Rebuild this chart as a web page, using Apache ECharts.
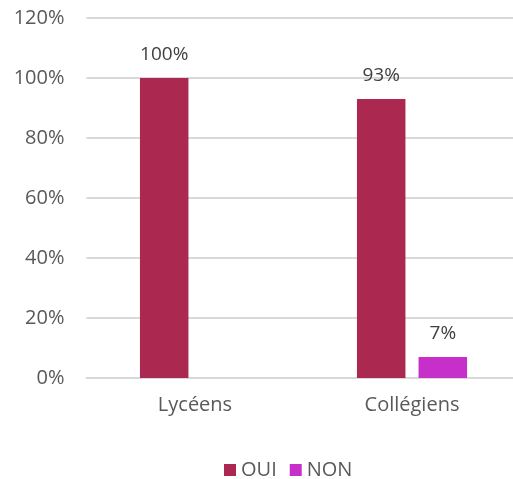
<!DOCTYPE html>
<html>
<head>
<meta charset="utf-8">
<script src="https://cdn.jsdelivr.net/npm/echarts@6/dist/echarts.min.js"></script>
<style>
  html, body { margin: 0; padding: 0; background: #fff; }
  #chart { width: 513px; height: 479px; }
</style>
</head>
<body>
<div id="chart"></div>
<script>
var categories = ['Lycéens', 'Collégiens']
var oui = [100, 93]
var non = [0, 7]

var chart = echarts.init(document.getElementById('chart'))

var labelStyle = {
  show: true,
  position: 'top',
  distance: 14,
  color: '#404040',
  fontSize: 19,
  fontFamily: 'Open Sans',
  formatter: function (p) { return p.value ? p.value + '%' : '' }
}

var option = {
  animation: false,
  textStyle: { fontFamily: 'Open Sans' },
  grid: { left: 86.5, right: -7.5, top: 18, bottom: 101, outerBoundsMode: 'none' },
  legend: {
    top: 455,
    left: 219,
    itemWidth: 12,
    itemHeight: 12,
    itemGap: 13,
    icon: 'rect',
    textStyle: { color: '#595959', fontSize: 20 },
    data: ['OUI', 'NON']
  },
  xAxis: {
    type: 'category',
    data: categories,
    axisTick: { show: false },
    axisLine: { lineStyle: { color: '#d9d9d9', width: 2 } },
    axisLabel: { color: '#595959', fontSize: 20, margin: 17 }
  },
  yAxis: {
    type: 'value',
    min: 0,
    max: 120,
    interval: 20,
    axisLine: { show: false },
    axisTick: { show: false },
    splitLine: { lineStyle: { color: '#d9d9d9', width: 2 } },
    axisLabel: { color: '#595959', fontSize: 20, margin: 22, formatter: '{value}%' }
  },
  series: [
    {
      name: 'OUI',
      type: 'bar',
      data: oui,
      barWidth: 48.5,
      barGap: '27%',
      itemStyle: { color: '#ab2850' },
      label: labelStyle
    },
    {
      name: 'NON',
      type: 'bar',
      data: non,
      barWidth: 48.5,
      itemStyle: { color: '#c62fc9' },
      label: labelStyle
    }
  ]
}

chart.setOption(option)
</script>
</body>
</html>
